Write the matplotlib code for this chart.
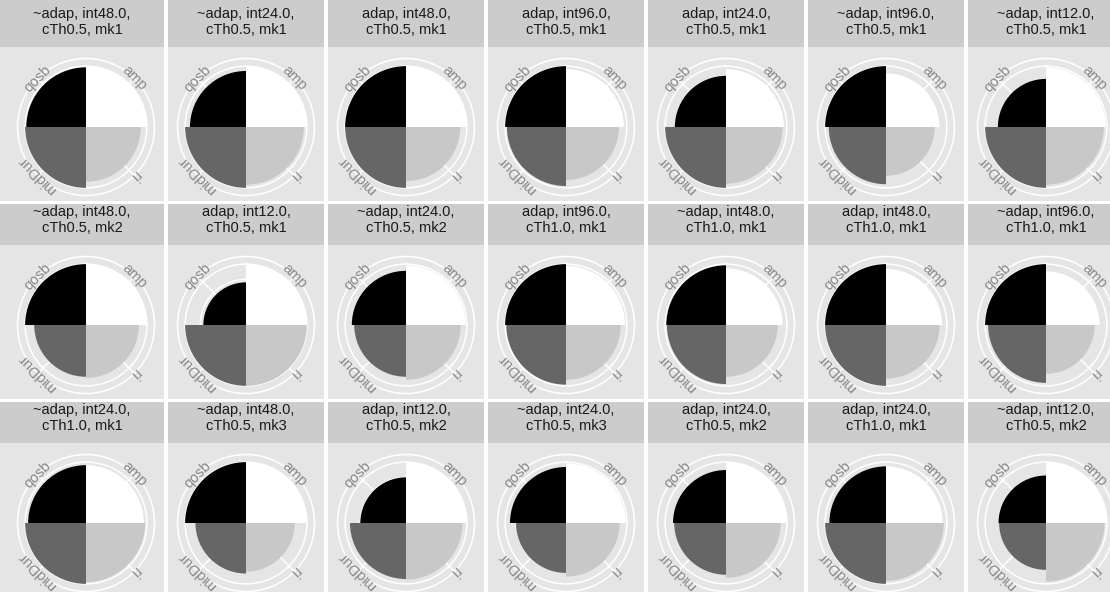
import numpy as np
import matplotlib
matplotlib.use("Agg")
import matplotlib.pyplot as plt

plt.rcParams["font.family"] = ["Liberation Sans", "DejaVu Sans"]

W, H, DPI = 1110, 592, 100

# wedge order around the circle, clockwise from 12 o'clock
categories = ["amp", "ri", "midDur", "qosb"]
fill_colors = ["#FFFFFF", "#C8C8C8", "#666666", "#000000"]

facet_titles = [
    "~adap, int48.0,\ncTh0.5, mk1", "~adap, int24.0,\ncTh0.5, mk1",
    "adap, int48.0,\ncTh0.5, mk1", "adap, int96.0,\ncTh0.5, mk1",
    "adap, int24.0,\ncTh0.5, mk1", "~adap, int96.0,\ncTh0.5, mk1",
    "~adap, int12.0,\ncTh0.5, mk1",
    "~adap, int48.0,\ncTh0.5, mk2", "adap, int12.0,\ncTh0.5, mk1",
    "~adap, int24.0,\ncTh0.5, mk2", "adap, int96.0,\ncTh1.0, mk1",
    "~adap, int48.0,\ncTh1.0, mk1", "adap, int48.0,\ncTh1.0, mk1",
    "~adap, int96.0,\ncTh1.0, mk1",
    "~adap, int24.0,\ncTh1.0, mk1", "~adap, int48.0,\ncTh0.5, mk3",
    "adap, int12.0,\ncTh0.5, mk2", "~adap, int24.0,\ncTh0.5, mk3",
    "adap, int24.0,\ncTh0.5, mk2", "adap, int24.0,\ncTh1.0, mk1",
    "~adap, int12.0,\ncTh0.5, mk2",
]

# normalised scores per facet
amp = [1.00, 1.00, 1.00, 0.95, 0.95, 0.88, 0.98,
       1.00, 1.00, 0.98, 0.97, 0.93, 0.92, 0.88,
       0.95, 1.00, 1.00, 0.98, 1.00, 0.93, 1.00]
ri = [0.90, 0.95, 0.89, 0.87, 0.93, 0.80, 0.95,
      0.87, 1.00, 0.90, 0.90, 0.85, 0.88, 0.80,
      0.97, 0.80, 0.93, 0.88, 0.90, 0.95, 0.96]
mid_dur = [1.00, 1.00, 1.00, 0.97, 1.00, 0.94, 1.00,
           0.85, 1.00, 0.85, 0.98, 0.97, 1.00, 0.95,
           1.00, 0.83, 0.92, 0.82, 0.85, 1.00, 0.77]
qosb = [0.98, 0.92, 1.00, 1.00, 0.84, 1.00, 0.79,
        1.00, 0.70, 0.89, 1.00, 0.98, 1.00, 1.00,
        0.95, 1.00, 0.75, 0.92, 0.87, 0.93, 0.78]

r_breaks = [0.25, 0.5, 0.75, 1.0]
R_OUTER = 1.125          # outer ring sits 12.5% beyond the largest value

PANEL_BG = "#E5E5E5"
STRIP_BG = "#CCCCCC"
GRID = "#FFFFFF"
AXIS_TXT = "#888888"

N_COL = 7
COL_PITCH, ROW_PITCH = 160, 198
CX0, CY0 = 86, 127
PANEL_HALF_W = 78
PANEL_UP, PANEL_DOWN = 80, 74
STRIP_UP = 121
TEXT_UP = 105
RING_PX = 68.5


def px_axes(fig, x0, y0, x1, y1, **kw):
    return fig.add_axes([x0 / W, 1 - y1 / H, (x1 - x0) / W, (y1 - y0) / H], **kw)


fig = plt.figure(figsize=(W / DPI, H / DPI), dpi=DPI, facecolor="white")

theta = np.deg2rad([45, 135, 225, 315])

for i, title in enumerate(facet_titles):
    row, col = divmod(i, N_COL)
    cx = CX0 + COL_PITCH * col
    cy = CY0 + ROW_PITCH * row

    left = cx - PANEL_HALF_W if col > 0 else 0
    right = cx + PANEL_HALF_W
    top = cy - PANEL_UP
    bottom = cy + PANEL_DOWN
    strip_top = cy - STRIP_UP if row > 0 else 0

    # panel background
    bg = px_axes(fig, left, top, right, bottom)
    bg.set_facecolor(PANEL_BG)
    bg.set_xticks([]); bg.set_yticks([])
    for s in bg.spines.values():
        s.set_visible(False)

    # facet strip
    st = px_axes(fig, left, strip_top, right, top)
    st.set_facecolor(STRIP_BG)
    st.set_xticks([]); st.set_yticks([])
    for s in st.spines.values():
        s.set_visible(False)
    st.set_xlim(left, right)
    st.set_ylim(top, strip_top)
    st.text((left + right) / 2, cy - TEXT_UP, title, ha="center", va="center",
            fontsize=10.5, color="#1A1A1A", linespacing=1.1)

    # coxcomb
    pax = px_axes(fig, cx - RING_PX, cy - RING_PX, cx + RING_PX, cy + RING_PX,
                  projection="polar")
    pax.set_facecolor("none")
    pax.set_theta_zero_location("N")
    pax.set_theta_direction(-1)
    vals = [amp[i], ri[i], mid_dur[i], qosb[i]]
    pax.bar(theta, vals, width=np.pi / 2, bottom=0, color=fill_colors,
            edgecolor="none", linewidth=0, align="center")
    pax.set_ylim(0, R_OUTER)
    pax.set_yticks(r_breaks)
    pax.set_yticklabels([])
    pax.set_xticks(theta)
    pax.set_xticklabels([])
    pax.tick_params(length=0)
    pax.set_axisbelow(True)
    pax.grid(True, color=GRID, linewidth=1.1)
    pax.spines["polar"].set_color(GRID)
    pax.spines["polar"].set_linewidth(1.1)

    for t, lab in zip(theta, categories):
        rot = -np.rad2deg(t)
        pax.text(t, R_OUTER, lab, ha="center", va="center", rotation=rot,
                 rotation_mode="anchor", fontsize=10.5, color=AXIS_TXT,
                 clip_on=False)

fig.savefig("out.png", dpi=DPI, facecolor="white")
